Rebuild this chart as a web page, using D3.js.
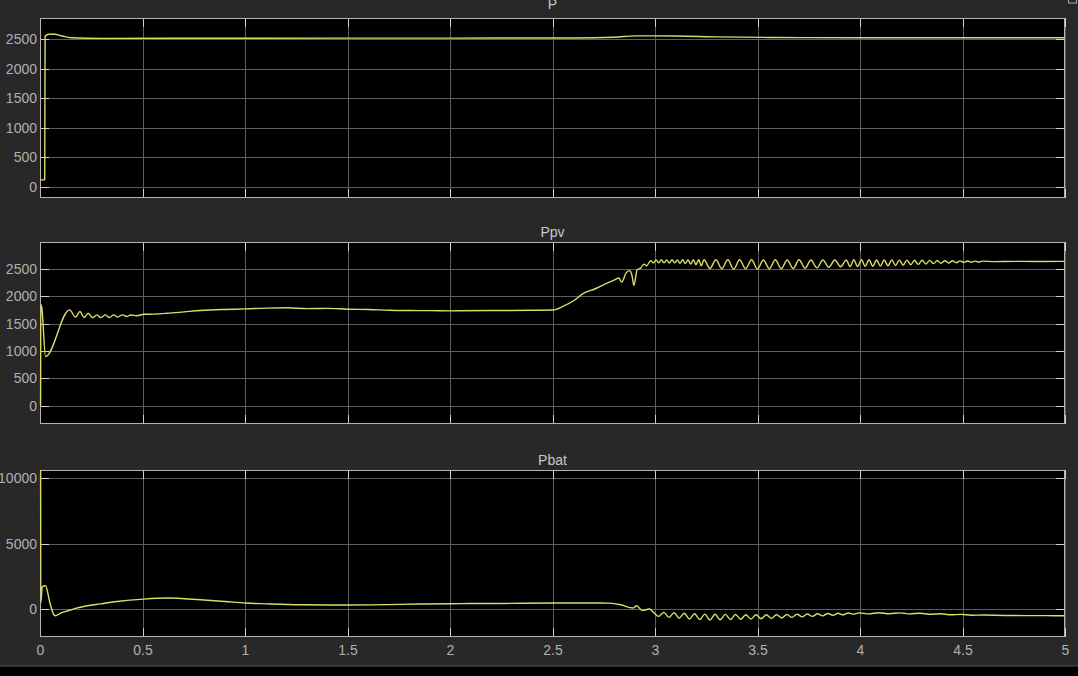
<!DOCTYPE html>
<html>
<head>
<meta charset="utf-8">
<script src="https://cdn.jsdelivr.net/npm/d3@7"></script>
<style>
  html, body { margin: 0; padding: 0; background: #282828; }
  svg { display: block; }
</style>
</head>
<body>
<svg id="chart" width="1078" height="676"></svg>
<script>
// ---------- data ----------
const titles = ["P", "Ppv", "Pbat"];
const xTicks = [0, 0.5, 1, 1.5, 2, 2.5, 3, 3.5, 4, 4.5, 5];
const pTicks = [0, 500, 1000, 1500, 2000, 2500];
const ppvTicks = [0, 500, 1000, 1500, 2000, 2500];
const pbatTicks = [0, 5000, 10000];

const pTime = [0, 0.02, 0.022, 0.04, 0.07, 0.1, 0.15, 0.3, 1.0, 2.0, 2.6, 2.8, 2.9, 3.1, 3.3, 3.6, 4.0, 4.5, 5.0];
const pValues = [120, 120, 2550, 2585, 2585, 2560, 2525, 2515, 2518, 2520, 2522, 2535, 2558, 2555, 2540, 2530, 2525, 2525, 2525];

const ppvTime = [
  0, 0.001, 0.006, 0.024, 0.141, 0.171, 0.192, 0.212, 0.232, 0.253, 0.276, 0.293, 0.317, 0.334, 0.358, 0.374, 0.399, 0.42, 0.439, 0.47,
  0.504, 0.55, 0.618, 0.7, 0.78, 0.9, 1.0, 1.1, 1.2, 1.3, 1.4, 1.5, 1.6, 1.7, 1.8, 1.9, 2.0, 2.2, 2.4, 2.5,
  2.55, 2.6, 2.65, 2.7, 2.75, 2.8, 2.82, 2.835, 2.855, 2.872, 2.885, 2.894, 2.91, 2.927, 2.943, 2.956, 2.976,
  2.989, 3.002, 3.015, 3.028, 3.041, 3.054, 3.067, 3.080, 3.093, 3.106, 3.119, 3.132, 3.145, 3.158, 3.171, 3.184, 3.197, 3.210, 3.223, 3.236,
  3.265, 3.294, 3.323, 3.352, 3.381, 3.410, 3.439, 3.468, 3.497, 3.526, 3.555, 3.584, 3.613, 3.642, 3.671, 3.700, 3.729, 3.758, 3.787, 3.816, 3.845, 3.874, 3.903, 3.93,
  3.9485, 3.967, 3.9855, 4.004, 4.0225, 4.041, 4.0595, 4.078, 4.0965, 4.115, 4.1335, 4.152, 4.1705, 4.189, 4.2075, 4.226, 4.2445, 4.263, 4.2815, 4.30,
  4.3185, 4.337, 4.3555, 4.374, 4.3925, 4.411, 4.4295, 4.448, 4.4665, 4.485, 4.5035, 4.522, 4.5405, 4.559, 4.5775, 4.596, 4.65, 4.75, 4.85, 5.0
];
const ppvValues = [
  0, 1850, 1790, 900, 1753, 1619, 1722, 1612, 1692, 1612, 1661, 1612, 1661, 1612, 1661, 1620, 1661, 1630, 1660, 1645,
  1672, 1675, 1690, 1715, 1740, 1760, 1770, 1785, 1790, 1775, 1780, 1765, 1760, 1745, 1740, 1738, 1735, 1740, 1745, 1750,
  1820, 1920, 2060, 2130, 2220, 2300, 2335, 2260, 2420, 2470, 2380, 2200, 2485, 2516, 2590, 2560, 2650,
  2610, 2665, 2612, 2668, 2615, 2665, 2610, 2668, 2612, 2665, 2605, 2668, 2600, 2665, 2590, 2668, 2580, 2668, 2560, 2668,
  2510, 2668, 2505, 2668, 2500, 2668, 2505, 2668, 2500, 2665, 2505, 2668, 2505, 2665, 2510, 2668, 2515, 2665, 2520, 2665, 2530, 2665, 2540, 2665,
  2545, 2668, 2545, 2668, 2548, 2668, 2550, 2665, 2555, 2665, 2560, 2665, 2565, 2663, 2570, 2662, 2578, 2660, 2585, 2660,
  2592, 2657, 2598, 2655, 2605, 2652, 2610, 2650, 2615, 2648, 2620, 2647, 2624, 2645, 2627, 2644, 2635, 2640, 2638, 2640
];

const pbatTime = [
  0, 0.001, 0.008, 0.024, 0.045, 0.065, 0.073, 0.098, 0.13, 0.17, 0.211, 0.293, 0.374, 0.504, 0.618, 0.78, 0.9, 1.0, 1.1, 1.27,
  1.5, 1.75, 2.0, 2.25, 2.5, 2.73, 2.77, 2.83, 2.89, 2.907, 2.935, 2.97, 2.99,
  3.015, 3.04, 3.065, 3.09, 3.115, 3.14, 3.165, 3.19, 3.215, 3.24, 3.265, 3.29, 3.315, 3.34, 3.365, 3.39, 3.415, 3.44, 3.465, 3.49,
  3.515, 3.54, 3.565, 3.59, 3.615, 3.64, 3.665, 3.69, 3.715, 3.74, 3.765, 3.79, 3.815, 3.84, 3.865, 3.89, 3.915, 3.94, 3.965, 3.99,
  4.04, 4.09, 4.14, 4.19, 4.24, 4.29, 4.34, 4.39, 4.44, 4.49, 4.54, 4.6, 4.7, 4.8, 4.9, 5.0
];
const pbatValues = [
  11000, 480, 1720, 1780, 500, -435, -510, -305, -150, 50, 200, 400, 580, 763, 840, 710, 580, 458, 400, 328,
  310, 360, 410, 430, 458, 458, 450, 328, 76, 250, -102, 0, -254,
  -560, -250, -640, -280, -700, -320, -760, -360, -800, -390, -840, -400, -820, -410, -800, -420, -780, -430, -760, -440,
  -740, -440, -710, -430, -680, -420, -640, -400, -600, -380, -560, -360, -520, -340, -480, -320, -440, -300, -400, -290,
  -370, -280, -360, -290, -370, -320, -400, -360, -440, -410, -470, -460, -490, -500, -505, -510
];

// ---------- layout ----------
const svg = d3.select("#chart");
const W = 1078, H = 676;
const left = 40, right = 1065;
const panels = [
  { title: titles[0], top: 18, bottom: 198, domain: [-186, 2860], ticks: pTicks, t: pTime, v: pValues, titleY: 9, labels: false },
  { title: titles[1], top: 242, bottom: 424, domain: [-335, 2994], ticks: ppvTicks, t: ppvTime, v: ppvValues, titleY: 237, labels: false },
  { title: titles[2], top: 470, bottom: 637, domain: [-2137, 10634], ticks: pbatTicks, t: pbatTime, v: pbatValues, titleY: 465, labels: true }
];

svg.append("rect").attr("x", 0).attr("y", 0).attr("width", W).attr("height", H).attr("fill", "#282828");
svg.append("rect").attr("x", 0).attr("y", 666).attr("width", W).attr("height", 10).attr("fill", "#000");
svg.append("line").attr("x1", 0).attr("x2", W).attr("y1", 666).attr("y2", 666).attr("stroke", "#555").attr("stroke-width", 1);
svg.append("rect").attr("x", 1068.5).attr("y", -4).attr("width", 8).attr("height", 7)
  .attr("fill", "none").attr("stroke", "#aaa").attr("stroke-width", 1);

const x = d3.scaleLinear().domain([0, 5]).range([left, right]);
const gridColor = "#5e5e5e";
const tickColor = "#d0d0d0";
const boxColor = "#b4b4b4";
const labelColor = "#b0b0b0";
const font = "'Liberation Sans', Arial, Helvetica, sans-serif";
const TL = 9;

panels.forEach((p, i) => {
  const y = d3.scaleLinear().domain(p.domain).range([p.bottom, p.top]);
  const g = svg.append("g");

  g.append("rect").attr("x", left).attr("y", p.top).attr("width", right - left).attr("height", p.bottom - p.top).attr("fill", "#000");

  // grid
  g.selectAll(".vg").data(xTicks).join("line")
    .attr("x1", d => Math.round(x(d)) + 0.5).attr("x2", d => Math.round(x(d)) + 0.5)
    .attr("y1", p.top).attr("y2", p.bottom)
    .attr("stroke", gridColor).attr("stroke-width", 1);
  g.selectAll(".hg").data(p.ticks).join("line")
    .attr("x1", left).attr("x2", right)
    .attr("y1", d => Math.round(y(d)) + 0.5).attr("y2", d => Math.round(y(d)) + 0.5)
    .attr("stroke", gridColor).attr("stroke-width", 1);

  // ticks (inside, mirrored)
  const yt = g.append("g");
  p.ticks.forEach(d => {
    const yy = Math.round(y(d)) + 0.5;
    yt.append("line").attr("x1", left).attr("x2", left + TL).attr("y1", yy).attr("y2", yy).attr("stroke", tickColor);
    yt.append("line").attr("x1", right - TL).attr("x2", right).attr("y1", yy).attr("y2", yy).attr("stroke", tickColor);
  });
  xTicks.forEach(d => {
    const xx = Math.round(x(d)) + 0.5;
    yt.append("line").attr("x1", xx).attr("x2", xx).attr("y1", p.bottom - TL).attr("y2", p.bottom).attr("stroke", tickColor);
    yt.append("line").attr("x1", xx).attr("x2", xx).attr("y1", p.top).attr("y2", p.top + TL).attr("stroke", tickColor);
  });

  // box
  g.append("rect").attr("x", left + 0.5).attr("y", p.top + 0.5)
    .attr("width", right - left - 1).attr("height", p.bottom - p.top - 1)
    .attr("fill", "none").attr("stroke", boxColor).attr("stroke-width", 1);

  // line (drawn above the box, like the scope)
  const clipId = "clip" + i;
  svg.append("clipPath").attr("id", clipId).append("rect")
    .attr("x", left - 1).attr("y", p.top).attr("width", right - left + 1).attr("height", p.bottom - p.top);
  const data = p.t.map((t, k) => [t, p.v[k]]);
  g.append("path").datum(data)
    .attr("clip-path", `url(#${clipId})`)
    .attr("fill", "none").attr("stroke", "#dcdc66").attr("stroke-width", 1.4)
    .attr("stroke-linejoin", "round")
    .attr("d", d3.line().x(d => x(d[0]) + 0.6).y(d => y(d[1])).curve(d3.curveMonotoneX));

  // y axis labels via axis generator
  const yAxis = d3.axisLeft(y).tickValues(p.ticks).tickSize(0).tickPadding(3).tickFormat(d3.format("d"));
  const ya = svg.append("g").attr("transform", `translate(${left},0)`).call(yAxis);
  ya.select(".domain").remove();
  ya.selectAll("text").attr("fill", labelColor).attr("font-size", 14).attr("font-family", font);

  if (p.labels) {
    const xAxis = d3.axisBottom(x).tickValues(xTicks).tickSize(0).tickPadding(8).tickFormat(d3.format("~g"));
    const xa = svg.append("g").attr("transform", `translate(0,${p.bottom})`).call(xAxis);
    xa.select(".domain").remove();
    xa.selectAll("text").attr("fill", labelColor).attr("font-size", 14).attr("font-family", font);
  }

  svg.append("text").attr("x", (left + right) / 2).attr("y", p.titleY)
    .attr("text-anchor", "middle").attr("fill", "#c8c8c8")
    .attr("font-size", 14).attr("font-family", font).text(p.title);
});
</script>
</body>
</html>
